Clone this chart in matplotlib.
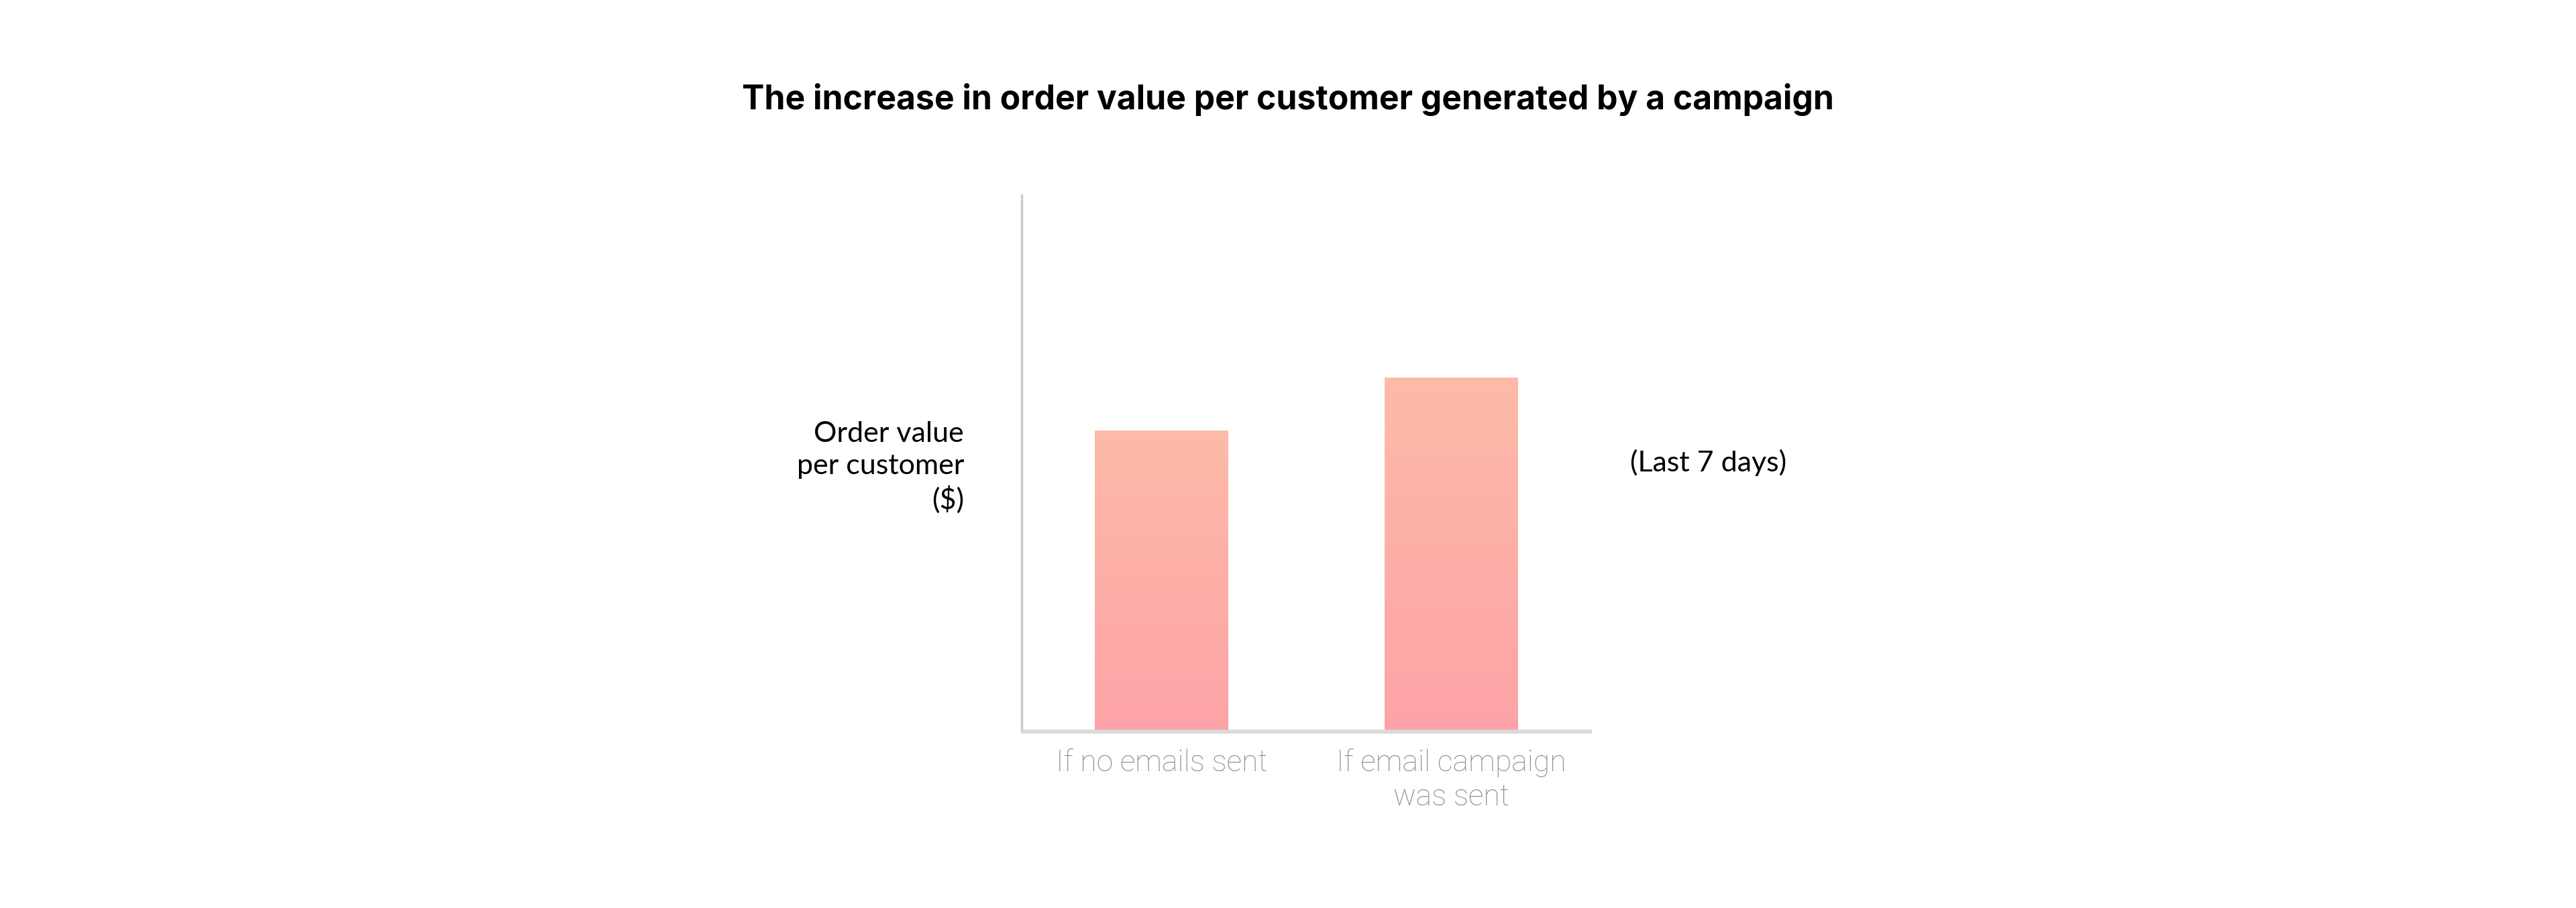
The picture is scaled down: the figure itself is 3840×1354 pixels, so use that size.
import numpy as np
import matplotlib.pyplot as plt
from matplotlib.colors import LinearSegmentedColormap

# DATA (relative bar heights, no scale shown on the chart)
categories = ["If no emails sent", "If email campaign\nwas sent"]
values = [56.1, 66.0]

title = "The increase in order value per customer generated by a campaign"
y_label = "Order value\nper customer\n($)"
side_note = "(Last 7 days)"

# STYLE
top_color = "#fdbba8"
bottom_color = "#fea3a7"
bar_width = 0.46

fig = plt.figure(figsize=(38.4, 13.54), dpi=100)
ax = fig.add_axes([1523/3840, 1 - 1091/1354, 850/3840, 800/1354])

x = np.arange(len(categories))
bars = ax.bar(x, values, width=bar_width, color="none", edgecolor="none")

# vertical gradient inside every bar
cmap = LinearSegmentedColormap.from_list("peach", [bottom_color, top_color])
grad = np.linspace(0, 1, 256).reshape(-1, 1)
for b in bars:
    x0, y0 = b.get_x(), b.get_y()
    im = ax.imshow(grad, cmap=cmap, aspect="auto", origin="lower",
                   extent=(x0, x0 + b.get_width(), y0, y0 + b.get_height()),
                   zorder=2)
    im.set_clip_path(b)

ax.set_xlim(-0.4826, 1.485)
ax.set_ylim(0, 100)

# AXES
for s in ["top", "right"]:
    ax.spines[s].set_visible(False)
ax.spines["left"].set_color("#c8c8c8")
ax.spines["left"].set_linewidth(2.4)
ax.spines["bottom"].set_color("#dadada")
ax.spines["bottom"].set_linewidth(4.3)
ax.spines["bottom"].set_capstyle("butt")

ax.set_yticks([])
ax.set_xticks(x)
ax.set_xticklabels(categories, family="Roboto", fontweight="light",
                   fontsize=32, color="#8a8a8a", linespacing=1.25)
ax.tick_params(axis="x", length=0, pad=18)

# TEXTS
fig.text(0.5, 1 - 163/1354, title, ha="center", va="baseline",
         family="Inter", fontweight="bold", fontsize=35.9, color="black")
fig.text(1437/3840, 1 - 697/1354, y_label, ha="right", va="center",
         family="Lato", fontsize=31, color="black", linespacing=1.3)
fig.text(2430/3840, 1 - 690/1354, side_note, ha="left", va="center",
         family="Lato", fontsize=31, color="black")

plt.savefig("out.png", dpi=100)
